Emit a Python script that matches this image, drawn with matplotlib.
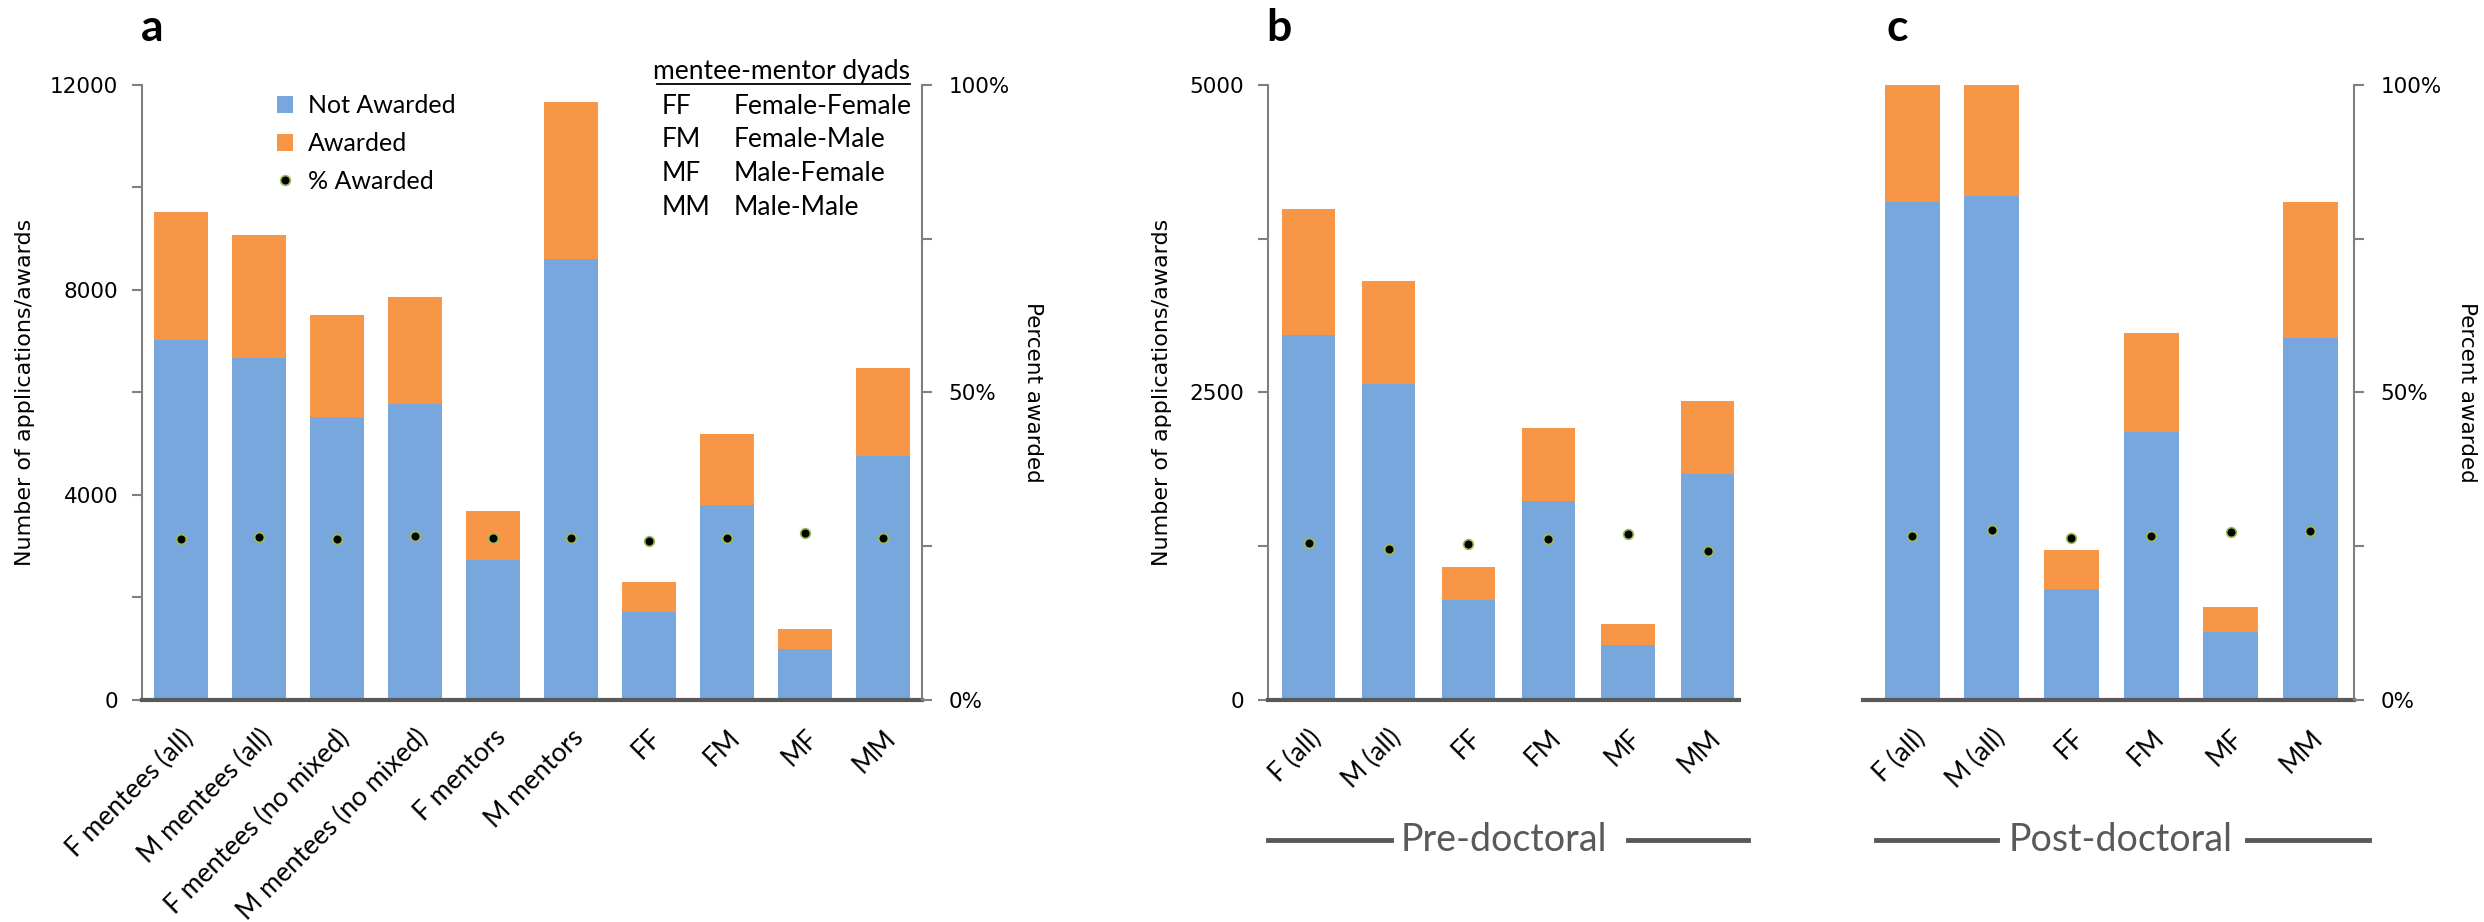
import matplotlib
matplotlib.use("Agg")
import matplotlib.pyplot as plt
from matplotlib.lines import Line2D
from matplotlib.ticker import FuncFormatter
from matplotlib.transforms import ScaledTranslation

# panel a: all applications
cats_a = ['F mentees (all)', 'M mentees (all)', 'F mentees (no mixed)',
          'M mentees (no mixed)', 'F mentors', 'M mentors', 'FF', 'FM', 'MF', 'MM']
not_awarded_a = [7020, 6680, 5530, 5770, 2730, 8600, 1710, 3810, 1000, 4770]
awarded_a = [2500, 2390, 1980, 2090, 960, 3070, 600, 1380, 380, 1700]
pct_a = [26.2, 26.5, 26.2, 26.6, 26.4, 26.4, 25.9, 26.4, 27.2, 26.4]

# panel b: pre-doctoral
cats_bc = ['F (all)', 'M (all)', 'FF', 'FM', 'MF', 'MM']
not_awarded_b = [2970, 2570, 810, 1620, 450, 1840]
awarded_b = [1020, 840, 270, 590, 170, 590]
pct_b = [25.5, 24.6, 25.3, 26.1, 27.0, 24.2]

# panel c: post-doctoral (F/M all go past the 5000 top and get cut)
not_awarded_c = [4050, 4100, 900, 2180, 550, 2940]
awarded_c = [1480, 1560, 320, 800, 210, 1110]
pct_c = [26.7, 27.6, 26.4, 26.7, 27.3, 27.5]

dyad_codes = ['FF', 'FM', 'MF', 'MM']
dyad_names = ['Female-Female', 'Female-Male', 'Male-Female', 'Male-Male']

BLUE = '#78A7DD'
ORANGE = '#F79646'
GREY = '#595959'
AXGREY = '#808080'
NUMFONT = 'DejaVu Sans'
TXTFONT = 'Lato'

W, H = 2484, 922
fig = plt.figure(figsize=(W / 100, H / 100), dpi=100)


def rect(x0, x1, y0=85, y1=700):
    return [x0 / W, 1 - y1 / H, (x1 - x0) / W, (y1 - y0) / H]


def every_other(fmt):
    def f(v, pos):
        return fmt(v) if pos % 2 == 0 else ''
    return FuncFormatter(f)


def style_count_axis(ax, ymax, step, show_left=True):
    ax.set_ylim(0, ymax)
    ax.set_yticks([step * i for i in range(int(ymax / step) + 1)])
    ax.yaxis.set_major_formatter(every_other(lambda v: '%d' % v))
    ax.tick_params(axis='y', direction='out', length=7, width=1.5,
                   color=AXGREY, pad=10, labelsize=15.5)
    ax.tick_params(axis='x', length=0, pad=18)
    for t in ax.get_yticklabels():
        t.set_fontfamily(NUMFONT)
    ax.spines['top'].set_visible(False)
    ax.spines['right'].set_visible(False)
    ax.spines['bottom'].set_color(GREY)
    ax.spines['bottom'].set_linewidth(3)
    ax.spines['left'].set_color(AXGREY)
    ax.spines['left'].set_linewidth(1.5)
    if not show_left:
        ax.spines['left'].set_visible(False)
        ax.tick_params(axis='y', left=False, labelleft=False)


def style_pct_axis(ax, visible=True):
    ax.set_ylim(0, 100)
    ax.set_yticks([0, 25, 50, 75, 100])
    ax.yaxis.set_major_formatter(every_other(lambda v: '%d%%' % v))
    ax.tick_params(axis='y', direction='out', length=7, width=1.5,
                   color=AXGREY, pad=12, labelsize=15.5)
    for t in ax.get_yticklabels():
        t.set_fontfamily(NUMFONT)
    for s in ['top', 'left', 'bottom']:
        ax.spines[s].set_visible(False)
    ax.spines['right'].set_color(AXGREY)
    ax.spines['right'].set_linewidth(1.5)
    if not visible:
        ax.spines['right'].set_visible(False)
        ax.tick_params(axis='y', right=False, labelright=False)


def draw_panel(ax, cats, not_aw, aw, pct, width, xlim):
    x = list(range(len(cats)))
    b1 = ax.bar(x, not_aw, width, color=BLUE, zorder=2)
    b2 = ax.bar(x, aw, width, bottom=not_aw, color=ORANGE, zorder=2)
    ax.set_xlim(*xlim)
    ax.set_xticks(x)
    ax.set_xticklabels(cats, rotation=45, ha='right', va='top',
                       rotation_mode='anchor', fontsize=19,
                       fontfamily=TXTFONT)
    shift = ScaledTranslation(0.07, 0, fig.dpi_scale_trans)
    for t in ax.get_xticklabels():
        t.set_transform(t.get_transform() + shift)
    ax2 = ax.twinx()
    d, = ax2.plot(x, pct, 'o', ls='none', color='black', ms=7,
                  mec='#9BBB59', mew=1.2, zorder=3)
    ax2.set_xlim(*xlim)
    return b1, b2, d, ax2


# ---- panel a
ax_a = fig.add_axes(rect(142, 922))
b1, b2, dot, ax_a2 = draw_panel(ax_a, cats_a, not_awarded_a, awarded_a,
                                pct_a, 0.69, (-0.5, 9.5))
style_count_axis(ax_a, 12000, 2000)
style_pct_axis(ax_a2)

ax_a2.legend([b1, b2, dot], ['Not Awarded', 'Awarded', '% Awarded'],
             loc='upper left', bbox_to_anchor=(277 / W, 1 - 94 / H),
             bbox_transform=fig.transFigure, frameon=False,
             handlelength=0.65, handleheight=0.65, handletextpad=0.6,
             labelspacing=0.6, borderpad=0, borderaxespad=0,
             prop={'family': TXTFONT, 'size': 18})

# dyad key
fig.text(910 / W, 1 - 72 / H, 'mentee-mentor dyads', ha='right', va='center',
         fontsize=19, fontfamily=TXTFONT)
fig.add_artist(Line2D([657 / W, 910 / W], [1 - 84 / H, 1 - 84 / H],
                      transform=fig.transFigure, color='black', lw=1.3))
for i, (code, name) in enumerate(zip(dyad_codes, dyad_names)):
    yy = 1 - (106 + 33.7 * i) / H
    fig.text(662 / W, yy, code, va='center', fontsize=19, fontfamily=TXTFONT)
    fig.text(734 / W, yy, name, va='center', fontsize=19, fontfamily=TXTFONT)

# ---- panel b
ax_b = fig.add_axes(rect(1268, 1739))
_, _, _, ax_b2 = draw_panel(ax_b, cats_bc, not_awarded_b, awarded_b,
                            pct_b, 0.665, (-0.51, 5.39))
style_count_axis(ax_b, 5000, 1250)
style_pct_axis(ax_b2, visible=False)

# ---- panel c
ax_c = fig.add_axes(rect(1863, 2354))
_, _, _, ax_c2 = draw_panel(ax_c, cats_bc, not_awarded_c, awarded_c,
                            pct_c, 0.69, (-0.62, 5.55))
style_count_axis(ax_c, 5000, 1250, show_left=False)
style_pct_axis(ax_c2)

# axis titles
ylab = dict(rotation=90, ha='center', va='center', fontsize=16,
            fontfamily=NUMFONT)
fig.text(25 / W, 1 - 392 / H, 'Number of applications/awards', **ylab)
fig.text(1162 / W, 1 - 392 / H, 'Number of applications/awards', **ylab)
plab = dict(rotation=-90, ha='center', va='center', fontsize=15.5,
            fontfamily=NUMFONT)
fig.text(1033 / W, 1 - 392 / H, 'Percent awarded', **plab)
fig.text(2467 / W, 1 - 392 / H, 'Percent awarded', **plab)

# panel letters
for lx, letter in [(141, 'a'), (1266, 'b'), (1886, 'c')]:
    fig.text(lx / W, 1 - 28 / H, letter, va='center', fontsize=32,
             fontweight='bold', fontfamily=TXTFONT)

# group labels under b and c
gy = 1 - 840 / H
for (l0, l1, r0, r1, tx, label) in [(1268, 1391, 1628, 1748, 1504, 'Pre-doctoral'),
                                    (1876, 1997, 2247, 2369, 2121, 'Post-doctoral')]:
    for a0, a1 in [(l0, l1), (r0, r1)]:
        fig.add_artist(Line2D([a0 / W, a1 / W], [gy, gy],
                              transform=fig.transFigure, color=GREY, lw=3.5))
    fig.text(tx / W, gy, label, ha='center', va='center', color=GREY,
             fontsize=27, fontfamily=TXTFONT)

fig.savefig('out.png', dpi=100, facecolor='white')
